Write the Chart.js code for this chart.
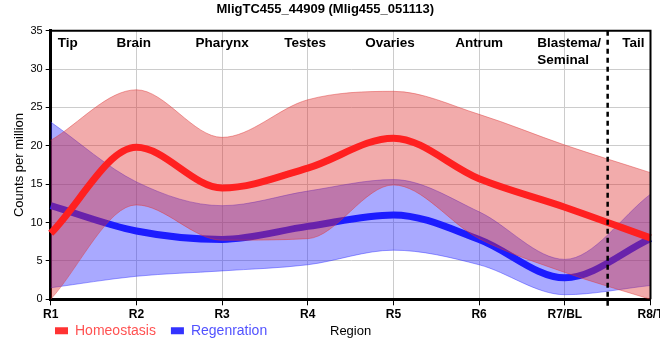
<!DOCTYPE html>
<html><head><meta charset="utf-8">
<script src="https://cdn.jsdelivr.net/npm/chart.js@4.4.1/dist/chart.umd.min.js"></script>
<style>html,body{margin:0;padding:0;background:#fff}</style>
</head><body>
<canvas id="c" width="660" height="360"></canvas>
<script>
// ---- data ----
const categories = ['R1', 'R2', 'R3', 'R4', 'R5', 'R6', 'R7/BL', 'R8/T'];
const homeoMean  = [8.6, 19.8, 14.5, 17.1, 21.0, 15.7, 12.0, 8.0];
const homeoUpper = [20.7, 27.3, 21.1, 26.0, 27.1, 24.1, 20.1, 16.5];
const homeoLower = [0.0, 12.3, 7.7, 7.9, 14.9, 7.9, 3.5, 0.0];
const regenMean  = [12.2, 8.9, 7.8, 9.5, 11.0, 7.8, 2.8, 7.9];
const regenUpper = [23.1, 15.3, 12.2, 14.1, 15.6, 11.4, 5.2, 13.7];
const regenLower = [1.5, 3.0, 3.7, 4.5, 6.4, 4.5, 0.6, 1.8];
const regionNames = [['Tip'], ['Brain'], ['Pharynx'], ['Testes'], ['Ovaries'], ['Antrum'], ['Blastema/', 'Seminal'], ['Tail']];
const regionAt = [0.2, 0.97, 2, 2.97, 3.96, 5, 6.05, 6.8];
const dividerAt = 6.5;
const yTicks = [0, 5, 10, 15, 20, 25, 30, 35];

const SANS = "'Liberation Sans',Arial,sans-serif";
Chart.defaults.font.family = SANS;

const RED = 'rgb(255,32,32)', BLUE = 'rgb(28,28,255)';
const RED_FILL = 'rgba(222,45,45,0.40)', BLUE_FILL = 'rgba(40,40,255,0.40)';
const LEGEND_PAD = 15, LEGEND_FONT = 14;

const deco = {
  id: 'deco',
  afterLayout(chart) {
    const lg = chart.legend;
    if (lg) {
      lg.left += 40;
      lg.top = chart.chartArea.bottom + 31.4 - LEGEND_PAD - LEGEND_FONT / 2;
    }
  },
  afterDatasetsDraw(chart) {
    const {ctx, chartArea: a, scales: {x}} = chart;
    ctx.save();
    // top & right frame
    ctx.strokeStyle = '#000'; ctx.lineWidth = 2;
    ctx.beginPath();
    ctx.moveTo(a.left, a.top); ctx.lineTo(a.right, a.top); ctx.lineTo(a.right, a.bottom);
    ctx.stroke();
    // divider
    const dx = x.getPixelForValue(dividerAt);
    ctx.setLineDash([5, 4]); ctx.lineWidth = 2.5;
    ctx.beginPath(); ctx.moveTo(dx, a.top); ctx.lineTo(dx, a.bottom + 7); ctx.stroke();
    ctx.setLineDash([]);
    // region names
    ctx.fillStyle = '#000';
    ctx.font = "bold 13.5px " + SANS;
    ctx.textBaseline = 'middle';
    regionNames.forEach((lines, i) => {
      const cx = x.getPixelForValue(regionAt[i]);
      const w = Math.max(...lines.map(l => ctx.measureText(l).width));
      ctx.textAlign = lines.length > 1 ? 'left' : 'center';
      lines.forEach((l, j) => {
        ctx.fillText(l, lines.length > 1 ? cx - w / 2 : cx, a.top + 13 + j * 17);
      });
    });
    ctx.restore();
  },
  afterDraw(chart) {
    const {ctx, chartArea: a} = chart;
    ctx.save();
    ctx.fillStyle = '#000';
    ctx.font = "13px " + SANS;
    ctx.textAlign = 'center'; ctx.textBaseline = 'middle';
    ctx.fillText('Region', (a.left + a.right) / 2, 331.5);
    ctx.restore();
  }
};

const ds = (label, data, extra) => Object.assign({
  label, data, pointRadius: 0, pointHoverRadius: 0,
  cubicInterpolationMode: 'monotone', fill: false
}, extra);

new Chart(document.getElementById('c'), {
  type: 'line',
  data: {
    labels: categories,
    datasets: [
      ds('Homeostasis', homeoMean, {borderColor: RED, borderWidth: 7}),
      ds('Homeostasis upper', homeoUpper, {borderColor: 'rgba(222,60,60,0.45)', borderWidth: 1, backgroundColor: RED_FILL, fill: '+1'}),
      ds('Homeostasis lower', homeoLower, {borderColor: 'rgba(222,60,60,0.45)', borderWidth: 1}),
      ds('Regenration', regenMean, {borderColor: BLUE, borderWidth: 7}),
      ds('Regenration upper', regenUpper, {borderColor: 'rgba(50,50,255,0.45)', borderWidth: 1, backgroundColor: BLUE_FILL, fill: '+1'}),
      ds('Regenration lower', regenLower, {borderColor: 'rgba(50,50,255,0.45)', borderWidth: 1})
    ]
  },
  options: {
    responsive: false,
    animation: false,
    devicePixelRatio: 1,
    layout: {padding: {left: 0, right: 9.5, top: 0, bottom: 0}},
    plugins: {
      title: {
        display: true, text: 'MligTC455_44909 (Mlig455_051113)', color: '#000',
        font: {family: SANS, size: 13, weight: 'bold', lineHeight: 1.2},
        padding: {top: 2, bottom: 13.1}
      },
      legend: {
        display: true, position: 'bottom', align: 'start',
        labels: {
          font: {family: SANS, size: LEGEND_FONT}, boxWidth: 13, boxHeight: 7, padding: LEGEND_PAD,
          generateLabels(chart) {
            const d = chart.data.datasets;
            return [
              {text: d[0].label, fillStyle: '#ff3333', strokeStyle: '#ff3333', lineWidth: 0, fontColor: '#ff5252', datasetIndex: 0, hidden: false},
              {text: d[3].label, fillStyle: '#3333ff', strokeStyle: '#3333ff', lineWidth: 0, fontColor: '#5252ff', datasetIndex: 3, hidden: false}
            ];
          }
        }
      },
      tooltip: {enabled: false}
    },
    scales: {
      x: {
        ticks: {color: '#000', font: {family: SANS, size: 12, weight: 'bold'}, padding: 2, maxRotation: 0, autoSkip: false},
        grid: {color: '#cccccc', tickColor: '#000', tickLength: 6, lineWidth: 1},
        border: {color: '#000', width: 3},
        afterFit(s) { s.height = 21.7; s.paddingLeft = 0; s.paddingRight = 0; }
      },
      y: {
        min: 0, max: 35,
        afterBuildTicks(s) { s.ticks = yTicks.map(v => ({value: v})); },
        ticks: {color: '#000', font: {size: 11}, padding: 3},
        grid: {color: '#cccccc', tickColor: '#000', tickLength: 5, lineWidth: 1},
        border: {color: '#000', width: 3},
        title: {display: true, text: 'Counts per million', color: '#000', font: {size: 13}, padding: {top: 11.5, bottom: 0}},
        afterFit(s) { s.width = 50.7; s.paddingTop = 0; s.paddingBottom = 0; }
      }
    }
  },
  plugins: [deco]
});
</script>
</body></html>
